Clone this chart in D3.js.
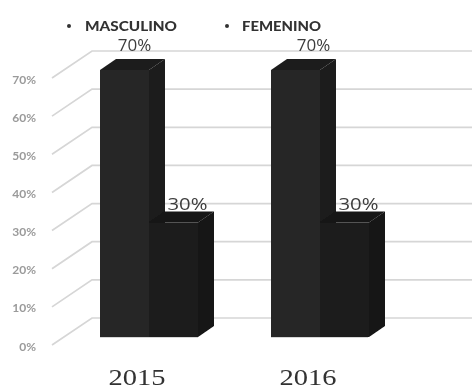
<!DOCTYPE html>
<html><head><meta charset="utf-8">
<script src="https://cdnjs.cloudflare.com/ajax/libs/d3/7.8.5/d3.min.js"></script>
<style>html,body{margin:0;padding:0;background:#fff}svg{display:block}</style>
</head><body><svg id="c" width="472" height="390"></svg>
<script>
const years = ["2015","2016"];
const seriesNames = ["MASCULINO","FEMENINO"];
const masculino = [70,70];
const femenino = [30,30];
const ticks = [0,10,20,30,40,50,60,70];

const svg = d3.select("#c");
const defs = svg.append("defs");
defs.append("filter").attr("id","soft").attr("x","-5%").attr("y","-5%").attr("width","110%").attr("height","110%")
  .append("feGaussianBlur").attr("stdDeviation",0.6);
const g = svg.append("g").attr("filter","url(#soft)");

const y = d3.scaleLinear().domain([0,70]).range([337,70]);
const x0 = d3.scaleBand().domain(years).range([100,442]);
const x1 = d3.scaleBand().domain(seriesNames).range([0,98]);
const depthX = 16, depthY = 11;
const wallDX = 40, wallDY = 27;

// grid
ticks.forEach(t=>{
  const yy = y(t)+8;
  g.append("path")
    .attr("d",`M52,${yy} L${52+wallDX},${yy-wallDY} L472,${yy-wallDY}`)
    .attr("fill","none").attr("stroke","#d6d6d6").attr("stroke-width",1.7);
  g.append("text").attr("x",36).attr("y",yy+5.5).attr("text-anchor","end")
    .attr("font-family","Lato, sans-serif").attr("font-weight",700).attr("font-size",12)
    .attr("fill","#9a9a9a").text(t+"%");
});

// bars
const bars = [];
years.forEach((yr,i)=>{
  bars.push({yr,s:seriesNames[0],v:masculino[i],front:"#262626",side:"#1a1a1a",top:"#1c1c1c"});
});
years.forEach((yr,i)=>{
  bars.push({yr,s:seriesNames[1],v:femenino[i],front:"#1b1b1b",side:"#121212",top:"#141414"});
});
bars.forEach(b=>{
  const l = x0(b.yr)+x1(b.s), r = l+x1.bandwidth(), t = y(b.v), bt = y(0);
  g.append("path").attr("fill",b.side)
    .attr("d",`M${r},${t} L${r+depthX},${t-depthY} L${r+depthX},${bt-depthY} L${r},${bt}Z`);
  g.append("path").attr("fill",b.top)
    .attr("d",`M${l},${t} L${l+depthX},${t-depthY} L${r+depthX},${t-depthY} L${r},${t}Z`);
  g.append("rect").attr("x",l).attr("y",t).attr("width",r-l).attr("height",bt-t).attr("fill",b.front);
  const first = b.s===seriesNames[0];
  const lx = first ? (l+r)/2+(b.yr==="2015"?10:18) : (l+r)/2+14;
  const lab = g.append("text").attr("x",lx).attr("y",t-depthY-(first?8:2))
    .attr("text-anchor","middle").attr("font-family","'Open Sans', sans-serif")
    .attr("font-size",17).attr("fill","#3c3c3c").text(b.v+"%");
  if(!first) lab.attr("textLength",40).attr("lengthAdjust","spacingAndGlyphs");
});

// baseline
g.append("line").attr("x1",100).attr("x2",198).attr("y1",337.5).attr("y2",337.5).attr("stroke","#d6d6d6").attr("stroke-width",1);
g.append("line").attr("x1",271).attr("x2",368).attr("y1",337.5).attr("y2",337.5).attr("stroke","#d6d6d6").attr("stroke-width",1);

// year labels
years.forEach((yr,i)=>{
  g.append("text").attr("x",[137,308][i]).attr("y",385).attr("text-anchor","middle")
    .attr("font-family","'Liberation Serif', serif").attr("font-size",23)
    .attr("textLength",57).attr("lengthAdjust","spacingAndGlyphs")
    .attr("fill","#333").text(yr);
});

// legend
seriesNames.forEach((n,i)=>{
  g.append("circle").attr("cx",[69,227][i]).attr("cy",26).attr("r",2).attr("fill","#333");
  g.append("text").attr("x",[85,242][i]).attr("y",30.7)
    .attr("font-family","Lato, sans-serif").attr("font-weight",900).attr("font-size",12.5)
    .attr("textLength",[92,79][i]).attr("lengthAdjust","spacingAndGlyphs")
    .attr("fill","#333").text(n);
});
</script></body></html>
